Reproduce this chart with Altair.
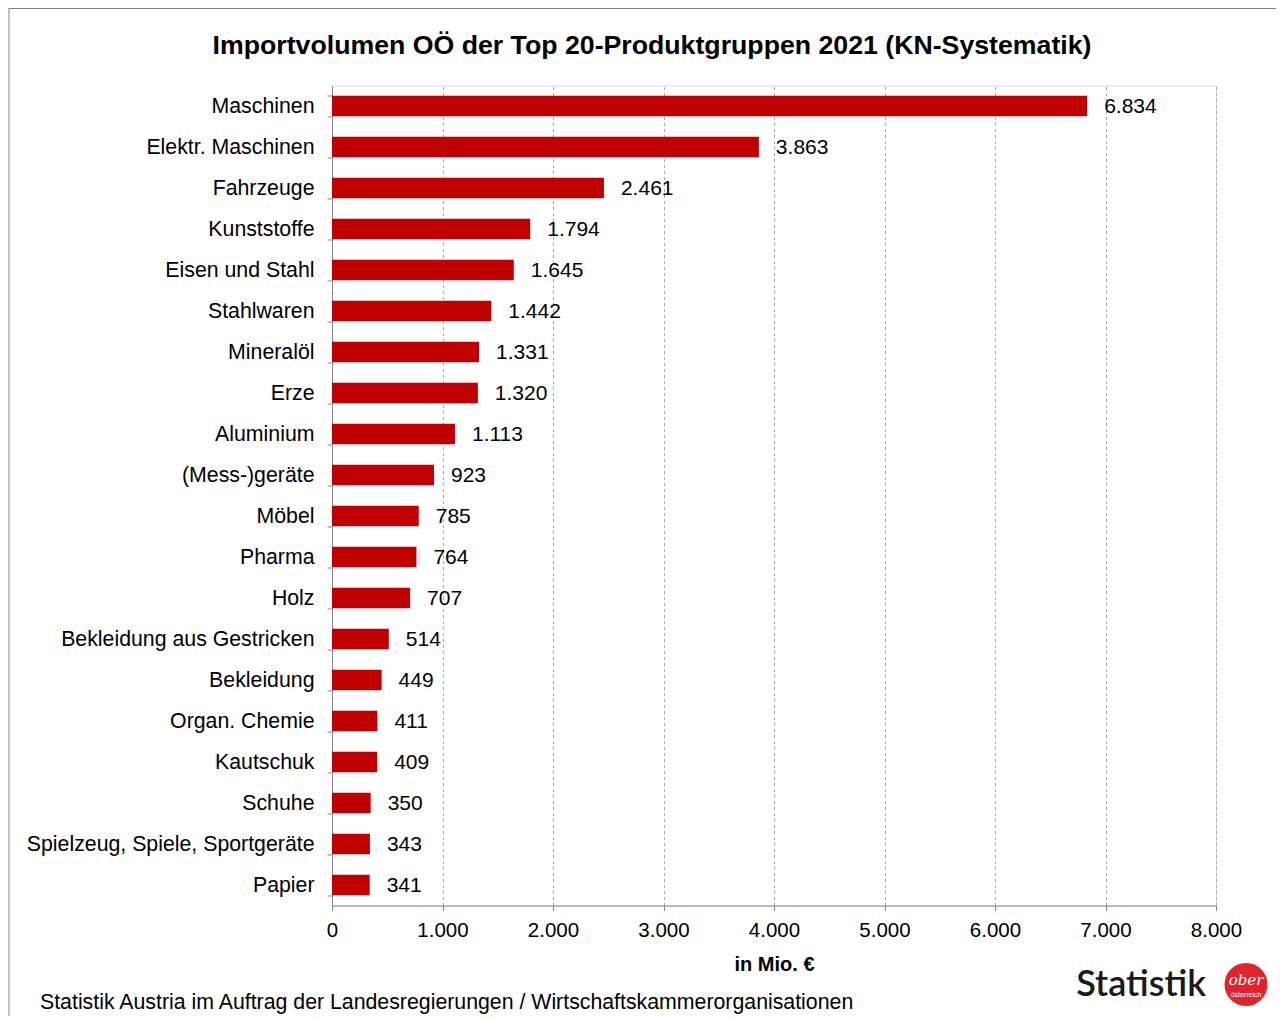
import altair as alt
import pandas as pd

categories = ["Maschinen", "Elektr. Maschinen", "Fahrzeuge", "Kunststoffe", "Eisen und Stahl",
              "Stahlwaren", "Mineralöl", "Erze", "Aluminium", "(Mess-)geräte", "Möbel", "Pharma",
              "Holz", "Bekleidung aus Gestricken", "Bekleidung", "Organ. Chemie", "Kautschuk",
              "Schuhe", "Spielzeug, Spiele, Sportgeräte", "Papier"]
values = [6834, 3863, 2461, 1794, 1645, 1442, 1331, 1320, 1113, 923, 785, 764, 707, 514, 449,
          411, 409, 350, 343, 341]
x_ticks = [0, 1000, 2000, 3000, 4000, 5000, 6000, 7000, 8000]

title_text = "Importvolumen OÖ der Top 20-Produktgruppen 2021 (KN-Systematik)"
footer_text = "Statistik Austria im Auftrag der Landesregierungen / Wirtschaftskammerorganisationen"
x_title = "in Mio. €"

FONT = "Liberation Sans"
W, H = 884, 820

df = pd.DataFrame({"cat": categories, "val": values})
one = pd.DataFrame({"k": [0]})

base = alt.Chart(df)

bars = base.mark_bar(color="#C00000").encode(
    x=alt.X("val:Q",
            scale=alt.Scale(domain=[0, 8000], nice=False, zero=True),
            axis=alt.Axis(values=x_ticks, title=x_title,
                          labelExpr="replace(format(datum.value, ','), ',', '.')",
                          labelFlush=False, labelOverlap=False,
                          grid=True, gridDash=[3, 3], gridColor="#AAAAAA", gridWidth=1,
                          domainColor="#888888", tickColor="#888888", tickSize=5,
                          labelFontSize=20.5, labelFont=FONT, labelColor="#000000",
                          labelPadding=10,
                          titleFontSize=20, titleFont=FONT, titleFontWeight="bold",
                          titleColor="#000000", titlePadding=13)),
    y=alt.Y("cat:N", sort=categories,
            scale=alt.Scale(paddingInner=0.5, paddingOuter=0.25),
            axis=alt.Axis(title=None, tickBand="extent", domainColor="#888888",
                          tickColor="#888888", tickSize=5, labelPadding=13,
                          labelFontSize=21.3, labelFont=FONT, labelColor="#000000",
                          labelLimit=400)),
)

labels = base.transform_calculate(
    lab="replace(format(datum.val, ','), ',', '.')"
).mark_text(align="left", baseline="middle", dx=17, dy=1, fontSize=21, font=FONT,
            color="#000000").encode(
    x="val:Q",
    y=alt.Y("cat:N", sort=categories),
    text="lab:N",
)

frame_left = alt.Chart(one).mark_rule(color="#808080", strokeWidth=1).encode(
    x=alt.value(-323), y=alt.value(-77.5), y2=alt.value(1000)
)
frame_top = alt.Chart(one).mark_rule(color="#808080", strokeWidth=1).encode(
    x=alt.value(-323), x2=alt.value(1000), y=alt.value(-77)
)

title = alt.Chart(one).mark_text(text=title_text, fontSize=26.7, fontWeight="bold", font=FONT,
                                 align="center", baseline="middle", color="#000000").encode(
    x=alt.value(320), y=alt.value(-40)
)

footer = alt.Chart(one).mark_text(text=footer_text, fontSize=21.3, font=FONT, align="left",
                                  baseline="middle", color="#000000").encode(
    x=alt.value(-292), y=alt.value(917.5)
)

logo_txt = alt.Chart(one).mark_text(text="Statistik", fontSize=36, fontWeight=600,
                                    font="Lato", align="right", baseline="middle",
                                    color="#1a1a1a").encode(
    x=alt.value(874), y=alt.value(899)
)

logo_circle = alt.Chart(one).mark_point(shape="circle", filled=True, color="#E3232B",
                                        size=1850, opacity=1).encode(
    x=alt.value(914), y=alt.value(899)
)

logo_ober = alt.Chart(one).mark_text(text="ober", fontSize=15, fontStyle="italic",
                                     font="DejaVu Serif", color="white", align="center",
                                     baseline="middle").encode(
    x=alt.value(914), y=alt.value(894)
)

logo_oe = alt.Chart(one).mark_text(text="österreich", fontSize=7, font=FONT, color="white",
                                   align="center", baseline="middle").encode(
    x=alt.value(914), y=alt.value(909)
)

chart = alt.layer(frame_left, frame_top, bars, labels, title, footer, logo_txt, logo_circle,
                  logo_ober, logo_oe).properties(
    width=W, height=H,
    autosize=alt.AutoSizeParams(type="none"),
    padding={"left": 324, "top": 77.5, "right": 60, "bottom": 110},
).configure_view(stroke=None).configure(background="white")

chart.save("out.html", embed_options={"renderer": "svg", "actions": False})
